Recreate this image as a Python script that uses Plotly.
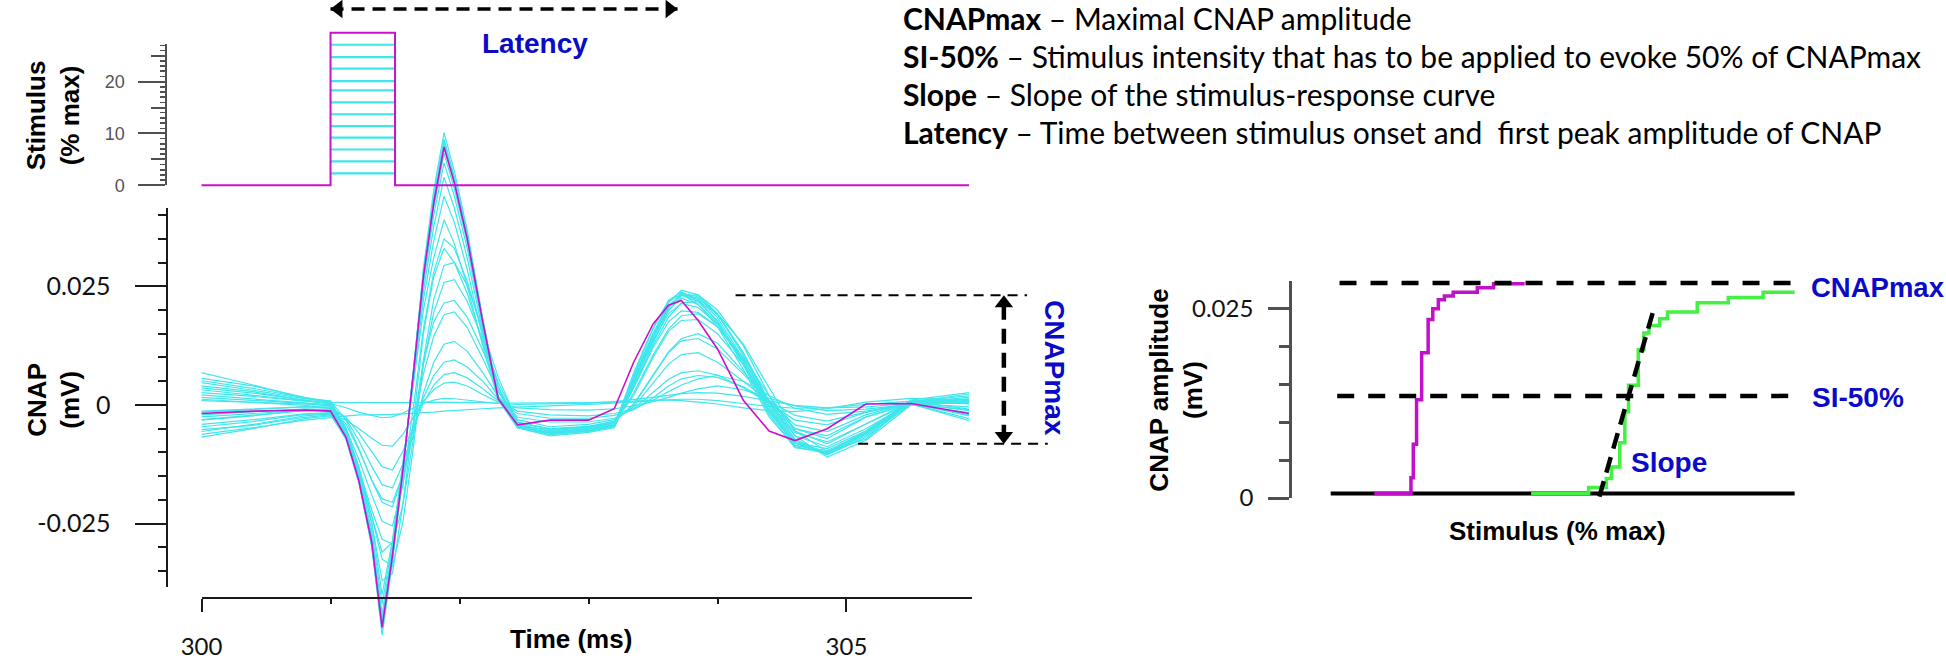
import plotly.graph_objects as go

# ======================= DATA =======================
# time grid of the CNAP recordings (ms)
T_MS = [300.0, 300.4, 300.8, 301.0, 301.12, 301.22, 301.32, 301.4, 301.48, 301.56,
        301.64, 301.72, 301.8, 301.88, 301.96, 302.06, 302.18, 302.3, 302.45, 302.7,
        303.0, 303.2, 303.35, 303.5, 303.62, 303.72, 303.85, 304.0, 304.2, 304.4,
        304.6, 304.85, 305.15, 305.5, 305.95]

# CNAP at maximal stimulus (magenta), mV
CNAP_MAX = [-0.0018, -0.0013, -0.0011, -0.0013, -0.0068, -0.0160, -0.0290, -0.0469, -0.0318, -0.0140,
            0.0060, 0.0270, 0.0425, 0.0543, 0.0468, 0.0350, 0.0175, 0.0013, -0.0042, -0.0032,
            -0.0032, -0.0008, 0.0090, 0.0170, 0.0210, 0.0220, 0.0178, 0.0118, 0.0010, -0.0055,
            -0.0075, -0.0050, 0.0002, 0.0003, -0.0018]

# CNAPs at increasing stimulus intensities (cyan), mV
CYAN_01 = [0.0068, 0.0042, 0.0014, 0.0006, 0.0005, 0.0005, 0.0004, 0.0004, 0.0004, 0.0005,
           0.0005, 0.0006, 0.0006, 0.0006, 0.0006, 0.0005, 0.0005, 0.0004, 0.0004, 0.0004,
           0.0005, 0.0006, 0.0008, 0.0010, 0.0010, 0.0009, 0.0006, 0.0002, -0.0006, -0.0012,
           -0.0014, -0.0008, 0.0006, 0.0014, 0.0010]
CYAN_02 = [-0.0062, -0.0048, -0.0032, -0.0026, -0.0023, -0.0021, -0.0021, -0.0021, -0.0020, -0.0019,
           -0.0018, -0.0016, -0.0015, -0.0013, -0.0012, -0.0010, -0.0008, -0.0006, -0.0004, -0.0002,
           0.0001, 0.0003, 0.0006, 0.0009, 0.0011, 0.0012, 0.0012, 0.0009, 0.0003, -0.0003,
           -0.0007, -0.0006, 0.0001, 0.0008, 0.0013]
CYAN_03 = [0.0032, 0.0021, 0.0009, 0.0003, -0.0006, -0.0015, -0.0022, -0.0027, -0.0025, -0.0017,
           -0.0007, 0.0003, 0.0010, 0.0014, 0.0013, 0.0010, 0.0006, 0.0003, 0.0001, 0.0002,
           0.0004, 0.0007, 0.0011, 0.0016, 0.0020, 0.0024, 0.0026, 0.0025, 0.0018, 0.0008,
           -0.0001, -0.0006, -0.0004, 0.0003, -0.0004]
CYAN_04 = [-0.0052, -0.0043, -0.0026, -0.0021, -0.0032, -0.0050, -0.0070, -0.0085, -0.0087, -0.0062,
           -0.0028, 0.0008, 0.0032, 0.0046, 0.0048, 0.0040, 0.0022, 0.0006, -0.0006, -0.0010,
           -0.0011, -0.0008, -0.0002, 0.0007, 0.0016, 0.0025, 0.0034, 0.0040, 0.0032, 0.0014,
           -0.0002, -0.0012, -0.0009, 0.0001, 0.0007]
CYAN_05 = [0.0012, 0.0006, -0.0001, -0.0007, -0.0026, -0.0060, -0.0100, -0.0130, -0.0137, -0.0098,
           -0.0048, 0.0004, 0.0042, 0.0064, 0.0068, 0.0057, 0.0034, 0.0009, -0.0013, -0.0021,
           -0.0023, -0.0018, -0.0008, 0.0010, 0.0028, 0.0042, 0.0055, 0.0062, 0.0050, 0.0020,
           -0.0007, -0.0020, -0.0013, 0.0003, 0.0011]
CYAN_06 = [-0.0032, -0.0023, -0.0011, -0.0010, -0.0040, -0.0095, -0.0158, -0.0198, -0.0205, -0.0148,
           -0.0065, 0.0025, 0.0090, 0.0128, 0.0134, 0.0113, 0.0068, 0.0018, -0.0026, -0.0036,
           -0.0036, -0.0028, -0.0008, 0.0026, 0.0054, 0.0068, 0.0072, 0.0063, 0.0036, 0.0004,
           -0.0032, -0.0042, -0.0016, 0.0004, 0.0009]
CYAN_07 = [0.0047, 0.0031, 0.0013, 0.0008, -0.0032, -0.0092, -0.0160, -0.0205, -0.0215, -0.0148,
           -0.0045, 0.0065, 0.0145, 0.0190, 0.0196, 0.0163, 0.0098, 0.0028, -0.0031, -0.0046,
           -0.0041, -0.0031, -0.0004, 0.0046, 0.0086, 0.0106, 0.0110, 0.0090, 0.0050, 0.0008,
           -0.0042, -0.0056, -0.0021, 0.0005, 0.0016]
CYAN_08 = [-0.0068, -0.0050, -0.0029, -0.0023, -0.0064, -0.0135, -0.0222, -0.0283, -0.0293, -0.0212,
           -0.0075, 0.0085, 0.0195, 0.0258, 0.0264, 0.0218, 0.0138, 0.0048, -0.0036, -0.0051,
           -0.0046, -0.0036, 0.0002, 0.0062, 0.0112, 0.0140, 0.0150, 0.0130, 0.0070, 0.0010,
           -0.0050, -0.0071, -0.0026, 0.0002, -0.0010]
CYAN_09 = [0.0021, 0.0012, 0.0003, 0.0000, -0.0052, -0.0130, -0.0236, -0.0325, -0.0340, -0.0248,
           -0.0095, 0.0095, 0.0222, 0.0294, 0.0300, 0.0252, 0.0158, 0.0058, -0.0036, -0.0051,
           -0.0046, -0.0036, 0.0020, 0.0100, 0.0155, 0.0178, 0.0180, 0.0150, 0.0085, 0.0005,
           -0.0058, -0.0078, -0.0040, 0.0008, 0.0002]
CYAN_10 = [-0.0041, -0.0031, -0.0019, -0.0016, -0.0062, -0.0145, -0.0250, -0.0370, -0.0355, -0.0210,
           -0.0040, 0.0150, 0.0270, 0.0330, 0.0300, 0.0235, 0.0130, 0.0030, -0.0045, -0.0052,
           -0.0047, -0.0037, 0.0035, 0.0120, 0.0175, 0.0198, 0.0195, 0.0165, 0.0095, 0.0005,
           -0.0065, -0.0088, -0.0050, 0.0005, -0.0021]
CYAN_11 = [0.0056, 0.0040, 0.0016, 0.0006, -0.0048, -0.0135, -0.0250, -0.0400, -0.0285, -0.0125,
           0.0045, 0.0200, 0.0310, 0.0390, 0.0340, 0.0250, 0.0125, 0.0010, -0.0048, -0.0057,
           -0.0050, -0.0040, 0.0045, 0.0135, 0.0192, 0.0214, 0.0205, 0.0170, 0.0090, -0.0010,
           -0.0080, -0.0092, -0.0055, 0.0008, 0.0019]
CYAN_12 = [-0.0021, -0.0015, -0.0008, -0.0010, -0.0060, -0.0148, -0.0265, -0.0420, -0.0292, -0.0128,
           0.0050, 0.0222, 0.0345, 0.0440, 0.0385, 0.0285, 0.0142, 0.0012, -0.0047, -0.0059,
           -0.0052, -0.0042, 0.0050, 0.0140, 0.0200, 0.0225, 0.0212, 0.0172, 0.0085, -0.0015,
           -0.0085, -0.0096, -0.0058, 0.0002, -0.0029]
CYAN_13 = [0.0036, 0.0025, 0.0010, 0.0002, -0.0055, -0.0150, -0.0275, -0.0440, -0.0302, -0.0132,
           0.0055, 0.0240, 0.0375, 0.0480, 0.0415, 0.0310, 0.0155, 0.0014, -0.0045, -0.0058,
           -0.0050, -0.0040, 0.0058, 0.0150, 0.0210, 0.0232, 0.0218, 0.0178, 0.0092, -0.0012,
           -0.0085, -0.0100, -0.0060, 0.0006, 0.0023]
CYAN_14 = [-0.0056, -0.0041, -0.0023, -0.0019, -0.0072, -0.0162, -0.0285, -0.0450, -0.0310, -0.0136,
           0.0058, 0.0255, 0.0400, 0.0510, 0.0440, 0.0330, 0.0165, 0.0015, -0.0048, -0.0062,
           -0.0055, -0.0045, 0.0045, 0.0140, 0.0205, 0.0233, 0.0225, 0.0190, 0.0110, 0.0005,
           -0.0075, -0.0105, -0.0068, 0.0002, -0.0033]
CYAN_15 = [0.0016, 0.0010, 0.0004, 0.0000, -0.0062, -0.0156, -0.0290, -0.0460, -0.0316, -0.0139,
           0.0060, 0.0265, 0.0415, 0.0530, 0.0456, 0.0342, 0.0170, 0.0015, -0.0046, -0.0060,
           -0.0053, -0.0043, 0.0062, 0.0160, 0.0220, 0.0238, 0.0220, 0.0175, 0.0085, -0.0020,
           -0.0090, -0.0100, -0.0055, 0.0008, 0.0011]
CYAN_16 = [-0.0031, -0.0022, -0.0012, -0.0012, -0.0068, -0.0162, -0.0298, -0.0470, -0.0322, -0.0141,
           0.0062, 0.0280, 0.0440, 0.0560, 0.0480, 0.0360, 0.0178, 0.0016, -0.0044, -0.0060,
           -0.0052, -0.0044, 0.0040, 0.0130, 0.0198, 0.0230, 0.0232, 0.0200, 0.0125, 0.0020,
           -0.0065, -0.0110, -0.0075, 0.0000, -0.0016]
CYAN_17 = [0.0026, 0.0018, 0.0008, 0.0004, -0.0058, -0.0158, -0.0300, -0.0485, -0.0332, -0.0145,
           0.0064, 0.0288, 0.0452, 0.0574, 0.0492, 0.0368, 0.0182, 0.0017, -0.0040, -0.0056,
           -0.0050, -0.0040, 0.0055, 0.0150, 0.0215, 0.0242, 0.0232, 0.0192, 0.0105, 0.0000,
           -0.0080, -0.0105, -0.0062, 0.0005, 0.0006]
CYAN_18 = [-0.0046, -0.0035, -0.0020, -0.0018, -0.0072, -0.0165, -0.0295, -0.0465, -0.0320, -0.0142,
           0.0060, 0.0272, 0.0430, 0.0548, 0.0472, 0.0355, 0.0176, 0.0014, -0.0048, -0.0065,
           -0.0058, -0.0048, 0.0038, 0.0125, 0.0185, 0.0215, 0.0218, 0.0192, 0.0128, 0.0035,
           -0.0055, -0.0098, -0.0072, 0.0008, -0.0009]
CYAN_19 = [0.0051, 0.0035, 0.0015, 0.0008, -0.0050, -0.0145, -0.0280, -0.0462, -0.0318, -0.0140,
           0.0061, 0.0276, 0.0435, 0.0552, 0.0476, 0.0358, 0.0178, 0.0015, -0.0044, -0.0060,
           -0.0054, -0.0045, 0.0068, 0.0162, 0.0218, 0.0234, 0.0212, 0.0165, 0.0075, -0.0025,
           -0.0088, -0.0102, -0.0058, 0.0010, 0.0026]
CYAN_20 = [-0.0013, -0.0008, -0.0004, -0.0006, -0.0064, -0.0158, -0.0292, -0.0472, -0.0325, -0.0143,
           0.0062, 0.0278, 0.0438, 0.0556, 0.0478, 0.0360, 0.0180, 0.0016, -0.0046, -0.0062,
           -0.0056, -0.0046, 0.0048, 0.0142, 0.0204, 0.0236, 0.0228, 0.0192, 0.0110, 0.0008,
           -0.0072, -0.0104, -0.0065, 0.0004, -0.0023]
CYAN_21 = [0.0040, 0.0028, 0.0010, 0.0004, -0.0050, -0.0115, -0.0190, -0.0245, -0.0255, -0.0170,
           -0.0045, 0.0090, 0.0175, 0.0215, 0.0220, 0.0185, 0.0115, 0.0035, -0.0038, -0.0050,
           -0.0045, -0.0034, 0.0000, 0.0060, 0.0110, 0.0135, 0.0140, 0.0118, 0.0065, 0.0008,
           -0.0050, -0.0065, -0.0025, 0.0004, 0.0012]
CYAN_22 = [-0.0025, -0.0018, -0.0010, -0.0008, -0.0058, -0.0140, -0.0235, -0.0310, -0.0290, -0.0165,
           -0.0010, 0.0160, 0.0280, 0.0350, 0.0330, 0.0260, 0.0150, 0.0040, -0.0042, -0.0054,
           -0.0048, -0.0038, 0.0025, 0.0105, 0.0160, 0.0188, 0.0192, 0.0165, 0.0100, 0.0020,
           -0.0055, -0.0082, -0.0040, 0.0004, -0.0012]
CYAN_23 = [0.0009, 0.0006, 0.0002, -0.0002, -0.0063, -0.0160, -0.0294, -0.0466, -0.0321, -0.0141,
           0.0061, 0.0275, 0.0433, 0.0550, 0.0474, 0.0356, 0.0177, 0.0015, -0.0045, -0.0061,
           -0.0055, -0.0045, 0.0052, 0.0147, 0.0208, 0.0233, 0.0222, 0.0184, 0.0098, -0.0005,
           -0.0080, -0.0100, -0.0060, 0.0006, 0.0004]
CYAN_24 = [-0.0015, -0.0010, -0.0004, -0.0004, -0.0030, -0.0075, -0.0130, -0.0168, -0.0175, -0.0125,
           -0.0055, 0.0015, 0.0062, 0.0090, 0.0095, 0.0080, 0.0050, 0.0012, -0.0018, -0.0028,
           -0.0028, -0.0022, -0.0010, 0.0015, 0.0040, 0.0055, 0.0062, 0.0058, 0.0038, 0.0008,
           -0.0022, -0.0034, -0.0015, 0.0004, 0.0003]
CYAN_TRACES = [CYAN_01, CYAN_02, CYAN_03, CYAN_04, CYAN_05, CYAN_24, CYAN_06, CYAN_07, CYAN_21, CYAN_08,
               CYAN_22, CYAN_09, CYAN_10, CYAN_11, CYAN_12, CYAN_13, CYAN_14, CYAN_15, CYAN_16, CYAN_17,
               CYAN_18, CYAN_19, CYAN_20, CYAN_23]

# stimulus pulses (% max)
STIM_START_MS = 300.0
STIM_ONSET_MS = 301.0
STIM_OFFSET_MS = 301.5
STIM_END_MS = 305.95
STIM_LEVELS = [2.3, 4.6, 6.9, 9.2, 11.4, 13.7, 16.0, 18.3, 20.1, 22.5, 24.7, 27.1]
STIM_MAX_LEVEL = 29.4

# latency arrow (ms), drawn above the stimulus panel
LATENCY_MS = [301.0, 303.69]
LATENCY_LEVEL = 34.0

# CNAPmax bracket on the recording panel
CNAPMAX_TOP_MV = 0.0231
CNAPMAX_TOP_MS = [304.14, 306.40]
CNAPMAX_BOT_MV = -0.0082
CNAPMAX_BOT_MS = [305.09, 306.56]
CNAPMAX_ARROW_MS = 306.22

# stimulus-response panel (x: stimulus, relative % scale; y: mV)
SR_BASE_X = [0.0, 100.0]
SR_BASE_MV = 0.0006
SR_MAG_X = [9.4, 17.3, 17.8, 18.5, 19.6, 21.0, 22.0, 23.2, 24.5, 26.4, 31.6, 35.1, 41.8]
SR_MAG_Y = [0.0006, 0.0027, 0.0071, 0.0130, 0.0192, 0.0236, 0.0250, 0.0262, 0.0267, 0.0272, 0.0278, 0.0283, 0.0283]
SR_GRN_X = [43.2, 55.6, 59.4, 60.5, 62.3, 63.4, 64.2, 66.3, 67.5, 68.6, 70.9, 72.6, 79.0, 85.7, 93.2, 100.0]
SR_GRN_Y = [0.0006, 0.0014, 0.0026, 0.0041, 0.0073, 0.0114, 0.0149, 0.0196, 0.0218, 0.0228, 0.0237, 0.0246,
            0.0258, 0.0265, 0.0272, 0.0272]
SR_CNAPMAX_MV = 0.0284
SR_CNAPMAX_X = [1.9, 100.1]
SR_SI50_MV = 0.0135
SR_SI50_X = [1.4, 100.1]
SR_SLOPE_X = [57.9, 69.8]
SR_SLOPE_Y = [0.0002, 0.0253]

# tick labels
TIME_TICKS = [300, 305]
TIME_TICK_TEXT = ["300", "305"]
TIME_MINOR = [301, 302, 303, 304]
CNAP_TICKS = [-0.025, 0, 0.025]
CNAP_TICK_TEXT = ["-0.025", "0", "0.025"]
CNAP_MINOR = [-0.035, -0.03, -0.02, -0.015, -0.01, -0.005, 0.005, 0.01, 0.015, 0.02, 0.03, 0.035, 0.04]
STIM_TICKS = [0, 10, 20]
STIM_TICK_TEXT = ["0", "10", "20"]
STIM_MID = [5, 15, 25]
STIM_MINOR = [1, 2, 3, 4, 6, 7, 8, 9, 11, 12, 13, 14, 16, 17, 18, 19, 21, 22, 23, 24, 26, 27]
SR_TICKS = [0, 0.025]
SR_TICK_TEXT = ["0", "0.025"]
SR_MINOR = [0.005, 0.01, 0.015, 0.02]

DEF_TERMS = ["CNAPmax", "SI-50%", "Slope", "Latency"]
DEF_TEXTS = ["Maximal CNAP amplitude",
             "Stimulus intensity that has to be applied to evoke 50% of CNAPmax",
             "Slope of the stimulus-response curve",
             "Time between stimulus onset and\u00a0 first peak amplitude of CNAP"]

# ======================= LAYOUT (pixels) =======================
W, H = 1946, 666
X0_PX, PX_PER_MS, XAXIS_END_PX, XAXIS_Y_PX = 182.5, 130.4, 961.0, 610.0
CNAP_ZERO_PX, PX_PER_MV = 413.0, 4840.0
CNAP_AXIS_X_PX, CNAP_AXIS_TOP_PX, CNAP_AXIS_BOT_PX = 148.0, 212.0, 599.0
STIM_ZERO_PX, PX_PER_PCT = 189.0, 5.29
STIM_AXIS_X_PX, STIM_AXIS_TOP_PX = 147.0, 45.0
SR_X0_PX, SR_PX_PER_UNIT = 1324.0, 4.69
SR_ZERO_PX, SR_PX_PER_MV = 508.0, 7720.0
SR_AXIS_X_PX, SR_AXIS_TOP_PX = 1283.0, 287.0


def px(x):
    return x / W


def py(y):
    return 1 - y / H


CYAN = "#3FE6EC"
MAGENTA = "#CC10CC"
GREEN = "#44F044"
BLUE = "#0A0AC8"
ARIAL = "Liberation Sans, Arial, sans-serif"
CAL = "Lato, Open Sans, sans-serif"

fig = go.Figure()

# ---- CNAP recordings ----
for tr in CYAN_TRACES:
    fig.add_trace(go.Scatter(x=T_MS, y=tr, mode="lines", line=dict(color=CYAN, width=1.2),
                             xaxis="x", yaxis="y", hoverinfo="skip"))
fig.add_trace(go.Scatter(x=T_MS, y=CNAP_MAX, mode="lines", line=dict(color=MAGENTA, width=1.6),
                         xaxis="x", yaxis="y", hoverinfo="skip"))

# CNAPmax bracket
thin_dash = dict(color="black", width=2, dash="10px,7px")
fig.add_trace(go.Scatter(x=CNAPMAX_TOP_MS, y=[CNAPMAX_TOP_MV] * 2, mode="lines", line=thin_dash,
                         xaxis="x", yaxis="y", hoverinfo="skip"))
fig.add_trace(go.Scatter(x=CNAPMAX_BOT_MS, y=[CNAPMAX_BOT_MV] * 2, mode="lines", line=thin_dash,
                         xaxis="x", yaxis="y", hoverinfo="skip"))
R_V = 8.0
fig.add_trace(go.Scatter(x=[CNAPMAX_ARROW_MS] * 2,
                         y=[CNAPMAX_TOP_MV - 1.2 * R_V / PX_PER_MV, CNAPMAX_BOT_MV + 1.2 * R_V / PX_PER_MV],
                         mode="lines", line=dict(color="black", width=4.5, dash="15px,9px"),
                         xaxis="x", yaxis="y", hoverinfo="skip"))
fig.add_trace(go.Scatter(x=[CNAPMAX_ARROW_MS] * 2,
                         y=[CNAPMAX_TOP_MV - R_V / PX_PER_MV, CNAPMAX_BOT_MV + R_V / PX_PER_MV],
                         mode="markers", marker=dict(symbol=["triangle-up", "triangle-down"], size=2 * R_V,
                                                     color="black", line=dict(width=0)),
                         xaxis="x", yaxis="y", hoverinfo="skip"))

# ---- stimulus pulses: cyan plateaus, magenta full waveform on top ----
for lv in STIM_LEVELS:
    fig.add_trace(go.Scatter(x=[STIM_ONSET_MS, STIM_OFFSET_MS], y=[lv, lv], mode="lines",
                             line=dict(color=CYAN, width=2.2), xaxis="x", yaxis="y2", hoverinfo="skip"))
fig.add_trace(go.Scatter(
    x=[STIM_START_MS, STIM_ONSET_MS, STIM_ONSET_MS, STIM_OFFSET_MS, STIM_OFFSET_MS, STIM_END_MS],
    y=[0, 0, STIM_MAX_LEVEL, STIM_MAX_LEVEL, 0, 0], mode="lines",
    line=dict(color=MAGENTA, width=2), xaxis="x", yaxis="y2", hoverinfo="skip"))

# latency arrow
R_H = 8.0
fig.add_trace(go.Scatter(x=LATENCY_MS, y=[LATENCY_LEVEL] * 2, mode="lines",
                         line=dict(color="black", width=3.5, dash="13px,8px"),
                         xaxis="x", yaxis="y2", hoverinfo="skip"))
fig.add_trace(go.Scatter(x=[LATENCY_MS[0] + R_H / PX_PER_MS, LATENCY_MS[1] - R_H / PX_PER_MS],
                         y=[LATENCY_LEVEL] * 2, mode="markers",
                         marker=dict(symbol=["triangle-left", "triangle-right"], size=2 * R_H,
                                     color="black", line=dict(width=0)),
                         xaxis="x", yaxis="y2", hoverinfo="skip"))

# ---- stimulus-response panel ----
fig.add_trace(go.Scatter(x=SR_BASE_X, y=[SR_BASE_MV] * 2, mode="lines", line=dict(color="black", width=4),
                         xaxis="x3", yaxis="y6", hoverinfo="skip"))
fig.add_trace(go.Scatter(x=SR_MAG_X, y=SR_MAG_Y, mode="lines", line=dict(color="#C010C8", width=3.5, shape="hv"),
                         xaxis="x3", yaxis="y6", hoverinfo="skip"))
fig.add_trace(go.Scatter(x=SR_GRN_X, y=SR_GRN_Y, mode="lines", line=dict(color=GREEN, width=3.5, shape="hv"),
                         xaxis="x3", yaxis="y6", hoverinfo="skip"))
thick_dash = dict(color="black", width=4.5, dash="17px,14px")
fig.add_trace(go.Scatter(x=SR_CNAPMAX_X, y=[SR_CNAPMAX_MV] * 2, mode="lines", line=thick_dash,
                         xaxis="x3", yaxis="y6", hoverinfo="skip"))
fig.add_trace(go.Scatter(x=SR_SI50_X, y=[SR_SI50_MV] * 2, mode="lines", line=thick_dash,
                         xaxis="x3", yaxis="y6", hoverinfo="skip"))
fig.add_trace(go.Scatter(x=SR_SLOPE_X, y=SR_SLOPE_Y, mode="lines",
                         line=dict(color="black", width=4.5, dash="16px,9px"),
                         xaxis="x3", yaxis="y6", hoverinfo="skip"))

# dummy traces so the display-only axes are drawn
for xa, ya in [("x5", "y3"), ("x5", "y4"), ("x5", "y5"), ("x3", "y7")]:
    fig.add_trace(go.Scatter(x=[], y=[], xaxis=xa, yaxis=ya, hoverinfo="skip"))

hidden = dict(visible=False, showgrid=False, zeroline=False)
ax_black = "#1a1a1a"
ax_gray = "#505050"

fig.update_layout(
    width=W, height=H, margin=dict(l=0, r=0, t=0, b=0),
    paper_bgcolor="white", plot_bgcolor="rgba(0,0,0,0)", showlegend=False,
    xaxis=dict(domain=[0, 1], range=[300 - X0_PX / PX_PER_MS, 300 + (W - X0_PX) / PX_PER_MS], **hidden),
    yaxis=dict(domain=[0, 1], anchor="x",
               range=[(CNAP_ZERO_PX - H) / PX_PER_MV, CNAP_ZERO_PX / PX_PER_MV], **hidden),
    yaxis2=dict(domain=[0, 1], anchor="x", overlaying="y",
                range=[(STIM_ZERO_PX - H) / PX_PER_PCT, STIM_ZERO_PX / PX_PER_PCT], **hidden),
    xaxis5=dict(domain=[px(X0_PX), px(XAXIS_END_PX)],
                range=[300, 300 + (XAXIS_END_PX - X0_PX) / PX_PER_MS],
                anchor="free", position=py(XAXIS_Y_PX),
                showline=True, linecolor=ax_black, linewidth=2,
                ticks="outside", ticklen=13, tickwidth=2, tickcolor=ax_black,
                tickmode="array", tickvals=TIME_TICKS, ticktext=TIME_TICK_TEXT,
                tickfont=dict(family=CAL, size=24, color="#111"), ticklabelstandoff=14,
                minor=dict(tickmode="array", tickvals=TIME_MINOR, ticks="outside", ticklen=5,
                           tickwidth=2, tickcolor=ax_black, showgrid=False),
                showgrid=False, zeroline=False),
    yaxis3=dict(domain=[py(CNAP_AXIS_BOT_PX), py(CNAP_AXIS_TOP_PX)],
                range=[(CNAP_ZERO_PX - CNAP_AXIS_BOT_PX) / PX_PER_MV, (CNAP_ZERO_PX - CNAP_AXIS_TOP_PX) / PX_PER_MV],
                anchor="free", position=px(CNAP_AXIS_X_PX),
                showline=True, linecolor=ax_black, linewidth=2,
                ticks="outside", ticklen=31, tickwidth=2, tickcolor=ax_black,
                tickmode="array", tickvals=CNAP_TICKS, ticktext=CNAP_TICK_TEXT,
                tickfont=dict(family=CAL, size=25, color="#111"), ticklabelstandoff=20,
                minor=dict(tickmode="array", tickvals=CNAP_MINOR, ticks="outside", ticklen=8,
                           tickwidth=2, tickcolor=ax_black, showgrid=False),
                showgrid=False, zeroline=False),
    yaxis4=dict(domain=[py(STIM_ZERO_PX), py(STIM_AXIS_TOP_PX)],
                range=[0, (STIM_ZERO_PX - STIM_AXIS_TOP_PX) / PX_PER_PCT],
                anchor="free", position=px(STIM_AXIS_X_PX),
                showline=True, linecolor=ax_gray, linewidth=2,
                ticks="outside", ticklen=27, tickwidth=2, tickcolor=ax_gray,
                tickmode="array", tickvals=STIM_TICKS, ticktext=STIM_TICK_TEXT,
                tickfont=dict(family=ARIAL, size=18, color="#555"), ticklabelstandoff=10,
                minor=dict(tickmode="array", tickvals=STIM_MINOR, ticks="outside", ticklen=5,
                           tickwidth=1.5, tickcolor=ax_gray, showgrid=False),
                showgrid=False, zeroline=False),
    yaxis5=dict(domain=[py(STIM_ZERO_PX), py(STIM_AXIS_TOP_PX)],
                range=[0, (STIM_ZERO_PX - STIM_AXIS_TOP_PX) / PX_PER_PCT],
                anchor="free", position=px(STIM_AXIS_X_PX),
                showline=False, ticks="outside", ticklen=15, tickwidth=2, tickcolor=ax_gray,
                tickmode="array", tickvals=STIM_MID, showticklabels=False,
                showgrid=False, zeroline=False),
    xaxis3=dict(domain=[0, 1], anchor="y6",
                range=[(0 - SR_X0_PX) / SR_PX_PER_UNIT, (W - SR_X0_PX) / SR_PX_PER_UNIT], **hidden),
    yaxis6=dict(domain=[0, 1], anchor="x3",
                range=[(SR_ZERO_PX - H) / SR_PX_PER_MV, SR_ZERO_PX / SR_PX_PER_MV], **hidden),
    yaxis7=dict(domain=[py(SR_ZERO_PX), py(SR_AXIS_TOP_PX)],
                range=[0, (SR_ZERO_PX - SR_AXIS_TOP_PX) / SR_PX_PER_MV],
                anchor="free", position=px(SR_AXIS_X_PX),
                showline=True, linecolor=ax_gray, linewidth=3,
                ticks="outside", ticklen=21, tickwidth=3, tickcolor=ax_gray,
                tickmode="array", tickvals=SR_TICKS, ticktext=SR_TICK_TEXT,
                tickfont=dict(family=CAL, size=24, color="#111"), ticklabelstandoff=10,
                minor=dict(tickmode="array", tickvals=SR_MINOR, ticks="outside", ticklen=10,
                           tickwidth=3, tickcolor=ax_gray, showgrid=False),
                showgrid=False, zeroline=False),
)

ann = []


def add_text(text, x, y, size, color="black", family=ARIAL, angle=0, xanchor="center"):
    ann.append(dict(text=text, x=px(x), y=py(y), xref="paper", yref="paper", showarrow=False,
                    xanchor=xanchor, yanchor="middle", textangle=angle,
                    font=dict(family=family, size=size, color=color)))


add_text("<b>Stimulus<br>(% max)</b>", 32, 118, 26, angle=-90)
add_text("<b>CNAP<br>(mV)</b>", 33, 408, 26, angle=-90)
add_text("<b>Time (ms)</b>", 556, 652, 26)
add_text("<b>Latency</b>", 520, 44, 28, color=BLUE)
add_text("<b>CNAPmax</b>", 1045, 375, 28, color=BLUE, angle=90)
add_text("<b>CNAP amplitude<br>(mV)</b>", 1168, 398, 26, angle=-90)
add_text("<b>Stimulus (% max)</b>", 1553, 542, 26)
add_text("<b>CNAPmax</b>", 1807, 293, 27.5, color=BLUE, xanchor="left")
add_text("<b>SI-50%</b>", 1809, 405, 28, color=BLUE, xanchor="left")
add_text("<b>Slope</b>", 1666, 472, 28, color=BLUE)

for i, (term, desc) in enumerate(zip(DEF_TERMS, DEF_TEXTS)):
    add_text("<b>" + term + "</b> \u2013 " + desc, 890, 18 + 39 * i, 30, family=CAL, xanchor="left")

fig.update_layout(annotations=ann)
fig.write_html("out.html", config={"displayModeBar": False, "staticPlot": True},
               post_script="document.body.style.margin='0';document.body.style.overflow='hidden';")
